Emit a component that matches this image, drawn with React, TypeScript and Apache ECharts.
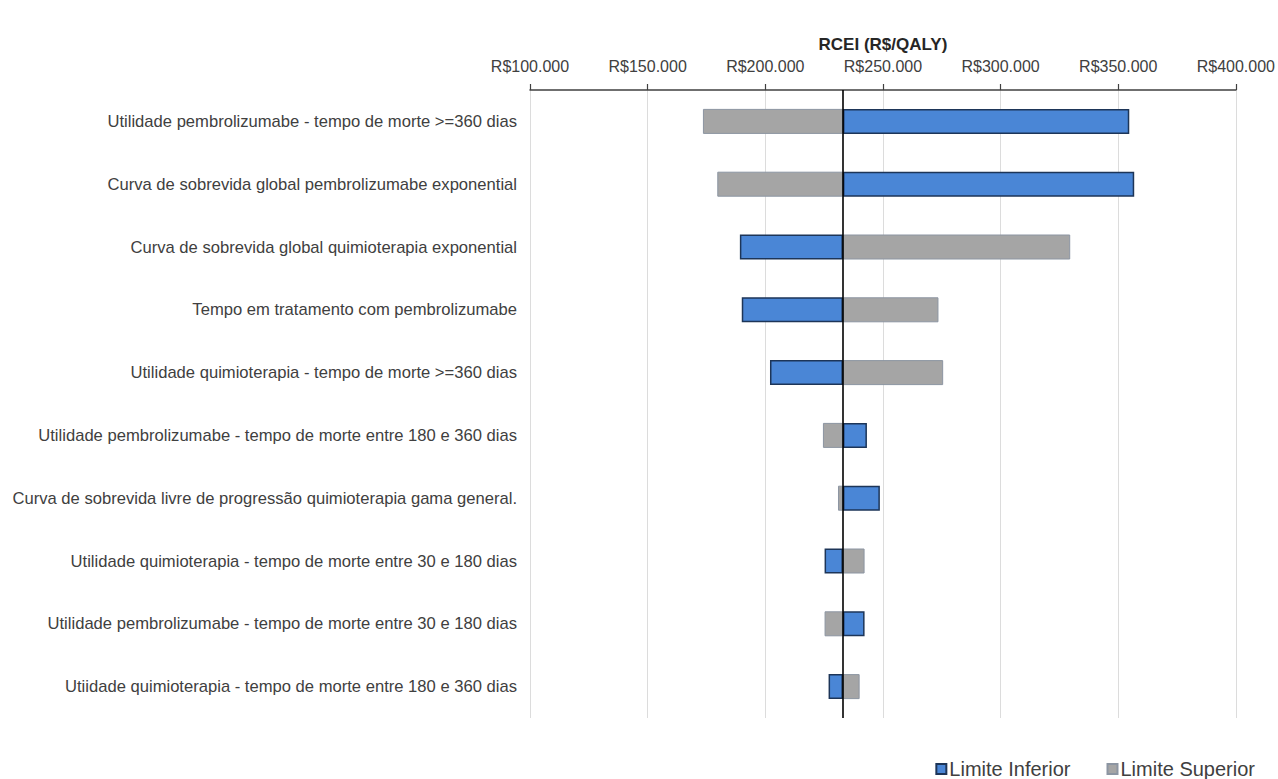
import React, { useEffect, useRef } from "react";
import * as echarts from "echarts";

// Tornado diagram: ICER (R$/QALY) sensitivity to each parameter
const BASE_CASE = 233000;

const categories = [
  "Utilidade pembrolizumabe - tempo de morte >=360 dias",
  "Curva de sobrevida global pembrolizumabe exponential",
  "Curva de sobrevida global quimioterapia exponential",
  "Tempo em tratamento com pembrolizumabe",
  "Utilidade quimioterapia - tempo de morte >=360 dias",
  "Utilidade pembrolizumabe - tempo de morte entre 180 e 360 dias",
  "Curva de sobrevida livre de progressão quimioterapia gama general.",
  "Utilidade quimioterapia - tempo de morte entre 30 e 180 dias",
  "Utilidade pembrolizumabe - tempo de morte entre 30 e 180 dias",
  "Utiidade quimioterapia - tempo de morte entre 180 e 360 dias",
];

// ICER at the lower limit of each parameter
const limiteInferior = [
  354700, 356800, 189200, 190000, 202000, 243200, 248700, 225200, 242200, 226900,
];

// ICER at the upper limit of each parameter
const limiteSuperior = [
  173500, 179600, 329600, 273600, 275600, 224500, 230900, 242200, 225200, 240100,
];

const axisMin = 100000;
const axisMax = 400000;
const axisStep = 50000;

const BLUE = "#4a86d6";
const BLUE_BORDER = "#1d3558";
const GREY = "#a5a5a5";
const GREY_BORDER = "#8c95a2";

const formatBRL = (v: number) =>
  "R$" + String(Math.round(v)).replace(/\B(?=(\d{3})+(?!\d))/g, ".");

export default function App() {
  const ref = useRef<HTMLDivElement>(null);

  useEffect(() => {
    document.body.style.margin = "0";
    if (!ref.current) return;
    const chart = echarts.init(ref.current, null, { renderer: "svg" });

    // Each bar runs from the base case to the parameter's ICER:
    // a transparent offset bar is stacked under the visible segment.
    const offset = (vals: number[]) => vals.map((v) => Math.min(v, BASE_CASE));
    const span = (vals: number[]) => vals.map((v) => Math.abs(v - BASE_CASE));

    const labelFont = "'Liberation Sans', Arial, sans-serif";

    chart.setOption({
      animation: false,
      backgroundColor: "#ffffff",
      grid: { left: 530, right: 40, top: 90, bottom: 61, containLabel: false },
      legend: {
        right: 23,
        bottom: 0,
        padding: 0,
        itemWidth: 10,
        itemHeight: 10,
        itemGap: 36,
        icon: "rect",
        data: ["Limite Inferior", "Limite Superior"],
        textStyle: { fontFamily: labelFont, fontSize: 20, color: "#404040", padding: [0, 0, 0, -2] },
      },
      xAxis: {
        type: "value",
        position: "top",
        min: axisMin,
        max: axisMax,
        interval: axisStep,
        name: "RCEI (R$/QALY)",
        nameLocation: "middle",
        nameGap: 34,
        nameTextStyle: {
          fontFamily: labelFont,
          fontSize: 17,
          fontWeight: "bold",
          color: "#262626",
        },
        axisLine: { show: true, lineStyle: { color: "#404040", width: 1.5 } },
        axisTick: { show: true, length: 6, lineStyle: { color: "#404040", width: 1.2 } },
        axisLabel: {
          formatter: formatBRL,
          fontFamily: "'Liberation Sans Narrow', 'Liberation Sans', Arial, sans-serif",
          fontSize: 16,
          color: "#404040",
          margin: 16,
        },
        splitLine: { show: true, lineStyle: { color: "#dcdcdc", width: 1 } },
      },
      yAxis: {
        type: "category",
        data: categories,
        inverse: true,
        axisLine: { show: false },
        axisTick: { show: false },
        axisLabel: {
          fontFamily: labelFont,
          fontSize: 16.6,
          color: "#404040",
          margin: 13,
        },
      },
      series: [
        {
          name: "offsetInferior",
          type: "bar",
          stack: "inferior",
          barWidth: 25,
          barGap: "-100%",
          silent: true,
          itemStyle: { color: "transparent" },
          data: offset(limiteInferior),
        },
        {
          name: "Limite Inferior",
          type: "bar",
          stack: "inferior",
          barWidth: 25,
          barGap: "-100%",
          itemStyle: { color: BLUE, borderColor: BLUE_BORDER, borderWidth: 1.5 },
          data: span(limiteInferior),
        },
        {
          name: "offsetSuperior",
          type: "bar",
          stack: "superior",
          barWidth: 25,
          barGap: "-100%",
          silent: true,
          itemStyle: { color: "transparent" },
          data: offset(limiteSuperior),
        },
        {
          name: "Limite Superior",
          type: "bar",
          stack: "superior",
          barWidth: 25,
          barGap: "-100%",
          itemStyle: { color: GREY, borderColor: GREY_BORDER, borderWidth: 1 },
          data: span(limiteSuperior),
          markLine: {
            silent: true,
            symbol: "none",
            label: { show: false },
            lineStyle: { color: "#000000", width: 1.6, type: "solid" },
            data: [{ xAxis: BASE_CASE }],
          },
          z: 3,
        },
      ],
    });

    return () => chart.dispose();
  }, []);

  return <div ref={ref} style={{ width: 1278, height: 779 }} />;
}
